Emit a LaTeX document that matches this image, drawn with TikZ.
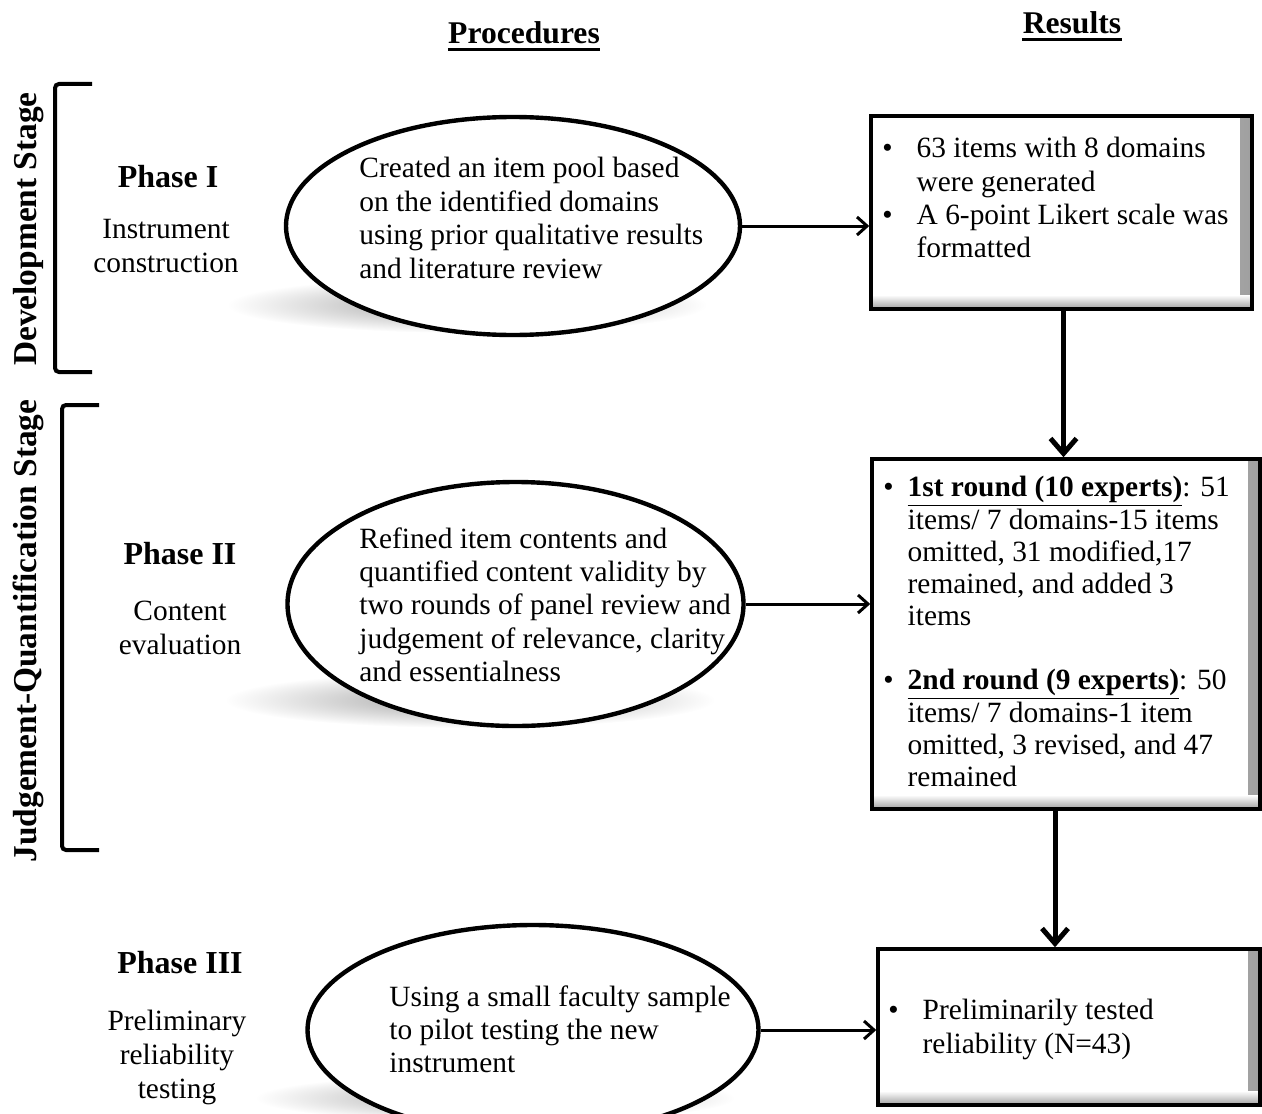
\documentclass[tikz,border=0pt]{standalone}
\usepackage{fontspec}
\setmainfont{Liberation Serif}
\usetikzlibrary{shapes,arrows.meta,positioning}

\tikzset{
  proc/.style={ellipse, draw, line width=2.2pt, fill=white, inner sep=0pt},
  res/.style={rectangle, draw, line width=1.75pt, fill=white, inner sep=0pt,
    path picture={
      \shade[left color=white, right color=gray!75]
        ([xshift=-6pt]path picture bounding box.north east) rectangle (path picture bounding box.south east);
      \shade[top color=white, bottom color=gray!75]
        ([yshift=7pt]path picture bounding box.south west) rectangle (path picture bounding box.south east);}},
  txt/.style={inner sep=0pt, align=left, font=\fontsize{14.7}{16.7}\selectfont},
  restxt/.style={inner sep=0pt, font=\fontsize{14.7}{16.7}\selectfont},
  phase/.style={inner sep=0pt, font=\fontsize{16}{19}\selectfont\bfseries},
  phtxt/.style={inner sep=0pt, align=center, font=\fontsize{14.7}{17}\selectfont},
  stage/.style={inner sep=0pt, rotate=90, font=\fontsize{16.7}{19}\selectfont\bfseries},
  head/.style={inner sep=0pt, font=\fontsize{15.8}{18}\selectfont\bfseries},
  brack/.style={line width=2pt, rounded corners=2pt},
  harrow/.style={-{Straight Barb[length=5pt,width=9pt]}, line width=1.5pt},
  varrow/.style={-{Straight Barb[length=7.5pt,width=13pt]}, line width=2.5pt}
}

\begin{document}
\begin{tikzpicture}[x=0.5pt,y=-0.5pt]
\useasboundingbox (0,0) rectangle (1262,1113);

\node[head] (hproc) at (524,33) {Procedures};
\node[head] (hres) at (1072,23) {Results};
\draw[line width=1.6pt] ([yshift=-3pt]hproc.base west) -- ([yshift=-3pt]hproc.base east);
\draw[line width=1.6pt] ([yshift=-3pt]hres.base west) -- ([yshift=-3pt]hres.base east);

\node[stage] (s1) at (29,229) {Development Stage};
\node[stage] (s2) at (28,631) {Judgement-Quantification Stage};
\draw[brack] (92,84) -- (55,84) -- (55,372) -- (92,372);
\draw[brack] (99,405) -- (62,405) -- (62,850) -- (99,850);

\node[phase] (ph1) at (168,177) {Phase I};
\node[phtxt] (pt1) at (166,246) {Instrument\\construction};
\node[phase] (ph2) at (180,554) {Phase II};
\node[phtxt] (pt2) at (180,628) {Content\\evaluation};
\node[phase] (ph3) at (180,963) {Phase III};
\node[phtxt] (pt3) at (177,1057) {Preliminary\\reliability\\testing};

\shade[inner color=gray!75, outer color=white] (467,305) ellipse (240 and 28);
\shade[inner color=gray!75, outer color=white] (470,700) ellipse (245 and 28);
\shade[inner color=gray!75, outer color=white] (495,1098) ellipse (240 and 24);

\node[proc, minimum width=227pt, minimum height=109pt] (p1) at (513,226) {};
\node[proc, minimum width=228pt, minimum height=122pt] (p2) at (515.5,604) {};
\node[proc, minimum width=225.5pt, minimum height=105pt] (p3) at (533,1030) {};
\node[txt, anchor=north west] (t1) at (359,157) {Created an item pool based\\on the identified domains\\using prior qualitative results\\and literature review};
\node[txt, anchor=north west] (t2) at (359,527) {Refined item contents and\\quantified content validity by\\two rounds of panel review and\\judgement of relevance, clarity\\and essentialness};
\node[txt, anchor=north west] (t3) at (389,985) {Using a small faculty sample\\to pilot testing the new\\instrument};

\node[res, minimum width=190.5pt, minimum height=96.5pt] (r1) at (1061.5,212.5) {};
\node[res, minimum width=194pt, minimum height=175pt] (r2) at (1066,634) {};
\node[res, minimum width=191pt, minimum height=78pt] (r3) at (1069,1027) {};

\node[restxt, anchor=north west] (rt1) at (882,134) {\begin{tabular}{@{}l@{\hspace{12pt}}l@{}}
\textbullet & 63 items with 8 domains\\
 & were generated\\
\textbullet & A 6-point Likert scale was\\
 & formatted
\end{tabular}};
\node[restxt, anchor=north west, font=\fontsize{14.7}{16}\selectfont] (rt2) at (883,474) {\begin{tabular}{@{}l@{\hspace{7pt}}l@{}}
\textbullet & \underline{\textbf{1st round (10 experts)}}: 51\\
 & items/ 7 domains-15 items\\
 & omitted, 31 modified,17\\
 & remained, and added 3\\
 & items\\
 & \\
\textbullet & \underline{\textbf{2nd round (9 experts)}}: 50\\
 & items/ 7 domains-1 item\\
 & omitted, 3 revised, and 47\\
 & remained
\end{tabular}};
\node[restxt, anchor=north west] (rt3) at (888,996) {\begin{tabular}{@{}l@{\hspace{12pt}}l@{}}
\textbullet & Preliminarily tested\\
 & reliability (N=43)
\end{tabular}};

\draw[harrow] (p1.east) -- (p1.east -| r1.west);
\draw[harrow] (p2.east) -- (p2.east -| r2.west);
\draw[harrow] (p3.east) -- (p3.east -| r3.west);
\draw[varrow] ([xshift=1pt]r1.south) -- ([xshift=1pt]r1.south |- r2.north);
\draw[varrow] ([xshift=-5.5pt]r2.south) -- ([xshift=-5.5pt]r2.south |- r3.north);
\end{tikzpicture}
\end{document}
